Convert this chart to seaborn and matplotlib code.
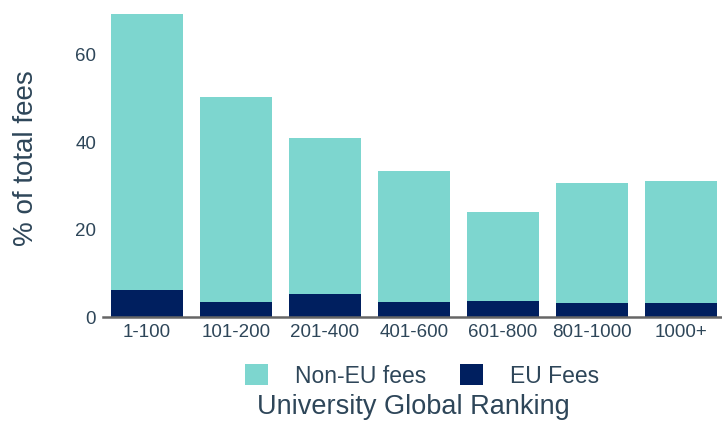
import matplotlib
matplotlib.use("Agg")
import matplotlib.pyplot as plt
import seaborn as sns
import pandas as pd
from matplotlib.patches import Patch

rankings = ["1-100", "101-200", "201-400", "401-600", "601-800", "801-1000", "1000+"]
eu_fees = [6.2, 3.4, 5.3, 3.4, 3.7, 3.2, 3.2]
non_eu_fees = [63.1, 46.9, 35.6, 30.0, 20.3, 27.4, 27.9]

TEAL = "#7dd6cf"
NAVY = "#001f5f"
TEXT = "#2e4659"

sns.set_theme(style="white")
plt.rcParams["font.family"] = ["Liberation Sans", "DejaVu Sans"]

df = pd.DataFrame({
    "ranking": rankings,
    "eu": eu_fees,
    "non_eu": non_eu_fees,
})
df["total"] = df["eu"] + df["non_eu"]

fig = plt.figure(figsize=(7.22, 4.22), dpi=100)
ax = fig.add_axes([103 / 722, 1 - 317 / 422, (722 - 103) / 722, (317 - 11) / 422])

# stacked look: full height in teal, EU share drawn over the base in navy
sns.barplot(data=df, x="ranking", y="total", color=TEAL, width=0.81,
            saturation=1, linewidth=0, ax=ax)
sns.barplot(data=df, x="ranking", y="eu", color=NAVY, width=0.81,
            saturation=1, linewidth=0, ax=ax)

ax.set_xlim(-0.49, 6.46)
ax.set_ylim(0, 70)
ax.set_yticks([0, 20, 40, 60])
ax.tick_params(axis="both", labelsize=13.5, colors=TEXT, length=0, pad=5)
ax.set_xlabel("")
ax.set_ylabel("% of total fees", fontsize=20, color=TEXT)
ax.yaxis.set_label_coords(-0.104, 0.52)

for side in ["top", "right", "left"]:
    ax.spines[side].set_visible(False)
ax.spines["bottom"].set_color("#666666")
ax.spines["bottom"].set_linewidth(1.8)

handles = [Patch(facecolor=TEAL, edgecolor="none", label="Non-EU fees"),
           Patch(facecolor=NAVY, edgecolor="none", label="EU Fees")]
leg = fig.legend(handles=handles, loc="center", bbox_to_anchor=(422 / 722, 1 - 376 / 422),
                 ncol=2, frameon=False, fontsize=16.5, handlelength=1.0, handleheight=1.0,
                 handletextpad=1.2, columnspacing=1.45, borderpad=0)
for t in leg.get_texts():
    t.set_color(TEXT)

fig.text(413 / 722, 1 - 407 / 422, "University Global Ranking", ha="center", va="center",
         fontsize=19.5, color=TEXT)

fig.savefig("out.png", dpi=100)
